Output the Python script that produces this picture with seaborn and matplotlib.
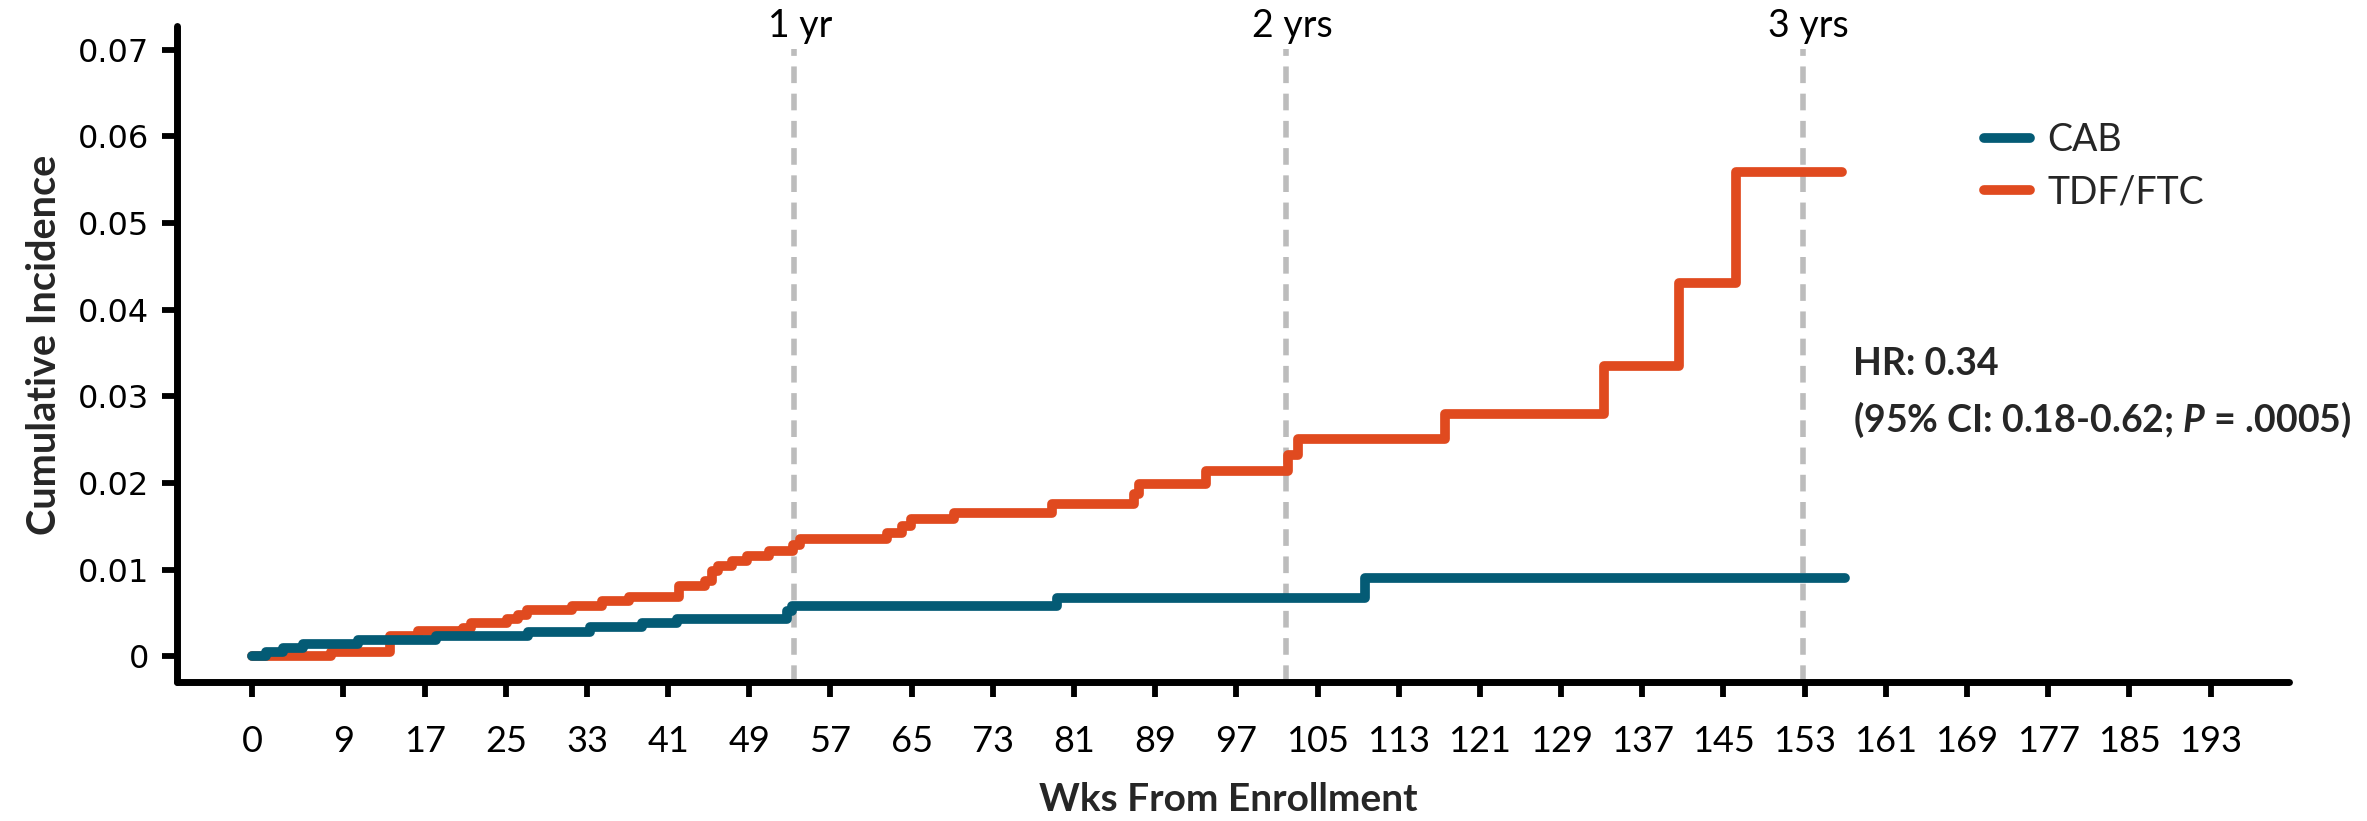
import matplotlib
matplotlib.use("Agg")
import matplotlib.pyplot as plt
import seaborn as sns
import pandas as pd
from matplotlib.lines import Line2D

# ---- data ----
cab_weeks = [0, 1.4, 3.0, 5.05, 10.4, 18.1, 27.2, 33.3, 38.4, 41.9, 52.7, 53.2, 79.3, 109.7, 157.0]
cab_inc = [0, 0.00046, 0.00096, 0.00142, 0.0019, 0.00238, 0.00277, 0.00335, 0.00385, 0.0043,
           0.0052, 0.0058, 0.0067, 0.0090, 0.0090]

tdf_weeks = [0, 7.8, 13.6, 16.4, 20.8, 21.6, 25.1, 26.2, 27.1, 31.5, 34.5, 37.1, 42.1, 44.6, 45.3,
             45.9, 47.3, 48.8, 50.9, 53.3, 54.0, 62.6, 64.0, 64.9, 69.2, 78.8, 86.9, 87.4, 94.0,
             102.1, 103.1, 117.6, 133.2, 140.6, 146.2, 156.7]
tdf_inc = [0, 0.00046, 0.0024, 0.0029, 0.0033, 0.0038, 0.0043, 0.0048, 0.0053, 0.0058, 0.0064,
           0.0069, 0.0081, 0.0087, 0.0098, 0.0104, 0.0110, 0.0116, 0.0122, 0.0129, 0.0135, 0.0142,
           0.0150, 0.0159, 0.0166, 0.0176, 0.0187, 0.0199, 0.0214, 0.0232, 0.0251, 0.0280, 0.0335,
           0.0431, 0.0559, 0.0559]

xtick_values = [0, 9, 17, 25, 33, 41, 49, 57, 65, 73, 81, 89, 97, 105, 113, 121, 129, 137, 145,
                153, 161, 169, 177, 185, 193]
ytick_values = [0, 0.01, 0.02, 0.03, 0.04, 0.05, 0.06, 0.07]
ytick_labels = ["0", "0.01", "0.02", "0.03", "0.04", "0.05", "0.06", "0.07"]

year_marks = [53.4, 101.9, 152.8]
year_labels = ["1 yr", "2 yrs", "3 yrs"]

series_names = ["CAB", "TDF/FTC"]
hr_line1 = "HR: 0.34"

# ---- style ----
sns.set_theme(style="white")
narrow = ["Lato", "DejaVu Sans"]
plt.rcParams["font.family"] = narrow
plt.rcParams["mathtext.fontset"] = "custom"
plt.rcParams["mathtext.bfit"] = "Lato:bold:italic"
plt.rcParams["mathtext.it"] = "Lato:italic"
plt.rcParams["mathtext.bf"] = "Lato:bold"
plt.rcParams["mathtext.rm"] = "Lato"

BLUE = "#045b75"
ORANGE = "#e04a1f"
GREY = "#bcbcbc"

df_cab = pd.DataFrame({"week": cab_weeks, "inc": cab_inc, "arm": series_names[0]})
df_tdf = pd.DataFrame({"week": tdf_weeks, "inc": tdf_inc, "arm": series_names[1]})

fig = plt.figure(figsize=(23.67, 8.21), dpi=100)
ax = fig.add_axes([0.0746, 0.1688, 0.8923, 0.7991])

# dashed year reference lines
ax.vlines(year_marks, -0.003, 0.0701, colors=GREY, linestyles=(0, (3.0, 1.9)), linewidth=4.0, zorder=1)

lw = 7.0
sns.lineplot(data=df_tdf, x="week", y="inc", drawstyle="steps-post", color=ORANGE,
             linewidth=lw, estimator=None, sort=False, ax=ax, legend=False, zorder=3,
             solid_capstyle="round", solid_joinstyle="round")
sns.lineplot(data=df_cab, x="week", y="inc", drawstyle="steps-post", color=BLUE,
             linewidth=lw, estimator=None, sort=False, ax=ax, legend=False, zorder=4,
             solid_capstyle="round", solid_joinstyle="round")

ax.set_xlim(-7.44, 200.7)
ax.set_ylim(-0.003, 0.0727)

ax.set_xticks(xtick_values)
ax.set_xticklabels([str(v) for v in xtick_values], fontsize=26, family=narrow)
ax.set_yticks(ytick_values)
ax.set_yticklabels(ytick_labels, fontsize=23, family=["DejaVu Sans"])

for side in ["top", "right"]:
    ax.spines[side].set_visible(False)
for side in ["left", "bottom"]:
    ax.spines[side].set_linewidth(5.0)
    ax.spines[side].set_color("black")
    ax.spines[side].set_capstyle("round")

ax.tick_params(axis="x", direction="out", length=11, width=4.2, color="black", pad=20,
               bottom=True, labelcolor="black")
ax.tick_params(axis="y", direction="out", length=11, width=4.2, color="black", pad=9,
               left=True, labelcolor="black")
ax.set_xlabel("")
ax.set_ylabel("")
ax.grid(False)

for xm, lab in zip(year_marks, year_labels):
    ax.text(xm + 0.6, 1.0, lab, transform=ax.get_xaxis_transform(), ha="center", va="center",
            fontsize=27, color="black", family=narrow)

fig.text(0.019, 0.58, "Cumulative Incidence", rotation=90, ha="center", va="center",
         fontsize=28.5, fontweight="bold", family=narrow)
fig.text(0.519, 0.026, "Wks From Enrollment", ha="center", va="center",
         fontsize=28, fontweight="bold", family=narrow)

# HR annotation
fig.text(0.783, 0.557, hr_line1, ha="left", va="center", fontsize=27, fontweight="bold",
         family=narrow)
fig.text(0.783, 0.4885, r"(95% CI: 0.18-0.62; $\mathbfit{P}$ = .0005)", ha="left", va="center",
         fontsize=27, fontweight="bold", family=narrow)

handles = [Line2D([0], [0], color=BLUE, lw=lw, solid_capstyle="round"),
           Line2D([0], [0], color=ORANGE, lw=lw, solid_capstyle="round")]
leg = fig.legend(handles, series_names, loc="upper left", bbox_to_anchor=(0.838, 0.851),
                 frameon=False, fontsize=27, handlelength=1.25, handletextpad=0.45,
                 labelspacing=0.42, borderpad=0, borderaxespad=0)
for t in leg.get_texts():
    t.set_family(narrow)

fig.savefig("out.png", dpi=100)
